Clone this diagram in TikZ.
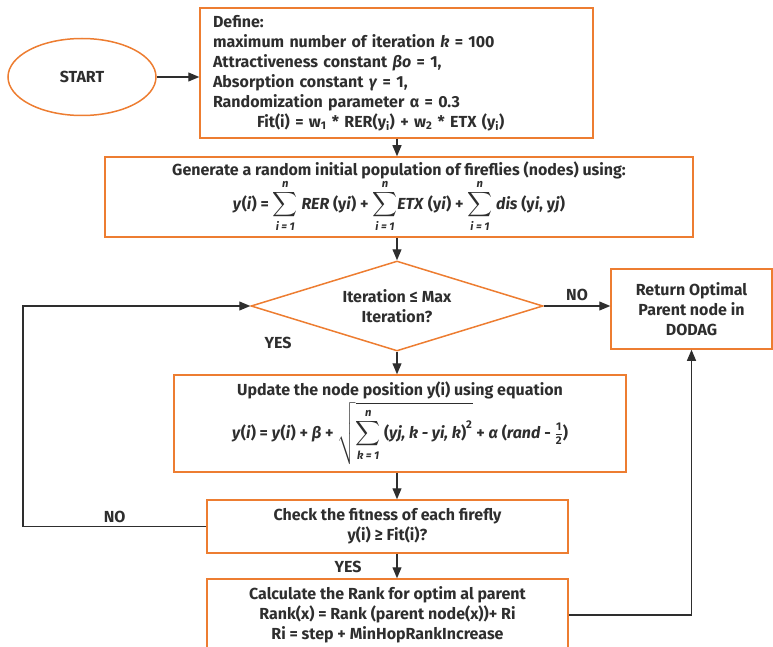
\documentclass[tikz,border=0pt]{standalone}
\usepackage{amsmath}
\usepackage{fontspec}
\setmainfont{Fira Sans}
\usetikzlibrary{arrows.meta,shapes.geometric}
\definecolor{flame}{HTML}{ED7D31}
\definecolor{ink}{HTML}{2E2E2E}
\newcommand{\fsum}[1]{$\displaystyle\sum_{\text{\textit{#1 = 1}}}^{\text{\textit{n}}}$}
\begin{document}
\begin{tikzpicture}[x=1pt,y=-1pt,font=\fontsize{16}{20}\selectfont\bfseries\boldmath,text=ink,
  box/.style={draw=flame,line width=1.5pt,rectangle,inner sep=0pt,align=center},
  link/.style={ink,line width=1.2pt,-{Triangle[length=11pt,width=9pt]}},
  tag/.style={font=\fontsize{16}{18}\selectfont\bfseries}]
\useasboundingbox (0,0) rectangle (773,647);
\clip (0,0) rectangle (773,647);
\coordinate (trunk) at (397,0);\coordinate (loop) at (23,0);
% boxes
\node[box,ellipse,minimum width=148,minimum height=77] (start) at (82,77) {START};
\node[box,minimum width=393,minimum height=130,text width=367,align=left] (define) at (396.5,73) {Define:\\
 maximum number of iteration \textit{k} = 100\\
 Attractiveness constant \textit{βo} = 1,\\
 Absorption constant \textit{γ} = 1,\\
 Randomization parameter α = 0.3\\
 \hspace*{44pt}Fit(i) = w\textsubscript{1} * RER(y\textsubscript{i}) + w\textsubscript{2} * ETX (y\textsubscript{i})};
\node[box,minimum width=588,minimum height=80] (gen) at (399,197) {Generate a random initial population of fireflies (nodes) using:\\
 \textit{y}(\textit{i}) = \fsum{i}\ \textit{RER} (y\textit{i}) + \fsum{i}\textit{ETX} (y\textit{i}) + \fsum{i}\ \textit{dis} (y\textit{i}, y\textit{j})};
\node[box,diamond,aspect=3.2,minimum width=292,minimum height=90] (cond) at (397,306) {Iteration ≤ Max\\Iteration?};
\node[box,minimum width=161,minimum height=80] (ret) at (691.5,309) {Return Optimal\\Parent node in\\DODAG};
\node[box,minimum width=452,minimum height=97] (update) at (400,423.5) {Update the node position y(i) using equation\\[2pt]
 \textit{y}(\textit{i}) = \textit{y}(\textit{i}) + \textit{β} + $\sqrt{\displaystyle\sum_{\text{\textit{k = 1}}}^{\text{\textit{n}}}\text{(\textit{yj, k - yi, k})}^{\text{2}}}$ + \textit{α} (\textit{rand} - $\frac{\text{1}}{\text{2}}$)};
\node[box,minimum width=361,minimum height=53] (check) at (387.5,526.5) {Check the fitness of each firefly\\y(i) ≥ Fit(i)?};
\node[box,minimum width=361,minimum height=72] (rank) at (387.5,615) {Calculate the Rank for optim al parent\\Rank(x) = Rank (parent node(x))+ Ri\\Ri = step + MinHopRankIncrease};
% connectors
\draw[link] (start.east) -- (start.east -| define.west);
\draw[link] (trunk |- define.south) -- (trunk |- gen.north);
\draw[link] (trunk |- gen.south) -- (cond.north);
\draw[link] (cond.east) -- (cond.east -| ret.west) node[tag,midway,above=1pt]{NO};
\draw[link] (cond.south) -- (trunk |- update.north);
\node[tag] (yesa) at (278,343) {YES};
\draw[link] (trunk |- update.south) -- (trunk |- check.north);
\draw[link] (check.west) -- (check.west -| loop) node[tag,midway,above=0pt]{NO} -- (cond.west -| loop) -- (cond.west);
\draw[link] (trunk |- check.south) -- (trunk |- rank.north);
\node[tag] (yesb) at (348,567) {YES};
\draw[link] (rank.east) -| (ret.south);
\end{tikzpicture}
\end{document}
